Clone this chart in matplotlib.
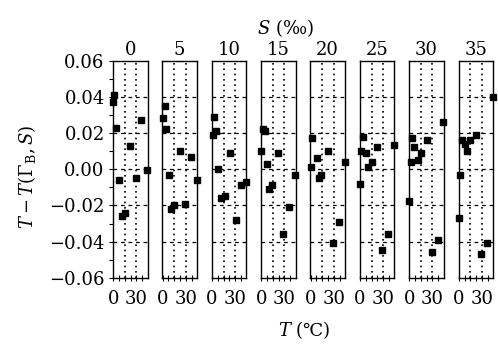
import numpy as np
import matplotlib.pyplot as plt

plt.rcParams['font.family'] = ['DejaVu Serif', 'DejaVu Sans']
plt.rcParams['mathtext.fontset'] = 'dejavuserif'

salinity = [0, 5, 10, 15, 20, 25, 30, 35]

# temperature (C) and deviation for each salinity panel
t_s0 = [1, 0, 4, 36, 22, 44, 7, 29, 15, 11]
d_s0 = [0.041, 0.037, 0.023, 0.027, 0.013, -0.0005, -0.006, -0.005, -0.024, -0.026]
t_s5 = [2.6, 1, 5, 23, 37, 8, 44, 15, 10.5, 29]
d_s5 = [0.035, 0.028, 0.022, 0.010, 0.007, -0.003, -0.006, -0.020, -0.022, -0.019]
t_s10 = [3, 5, 1.7, 23.5, 8, 44, 38, 16.7, 11.5, 31]
d_s10 = [0.029, 0.021, 0.019, 0.009, 0.000, -0.007, -0.009, -0.015, -0.016, -0.028]
t_s15 = [2, 4.6, 0, 21, 7, 43.6, 14, 10.6, 36, 28.6]
d_s15 = [0.022, 0.021, 0.010, 0.009, 0.003, -0.003, -0.009, -0.011, -0.021, -0.036]
t_s20 = [1.3, 22.6, 7.7, 44, 0, 14, 10.6, 36.7, 29]
d_s20 = [0.017, 0.010, 0.006, 0.004, 0.001, -0.003, -0.005, -0.029, -0.041]
t_s25 = [4.3, 1.3, 7.7, 21.4, 15, 10.6, 0, 43.6, 36.3, 29]
d_s25 = [0.018, 0.010, 0.009, 0.0125, 0.004, 0.001, -0.008, 0.0135, -0.036, -0.0445]
t_s30 = [43.6, 3.8, 22.3, 6.4, 14.6, 11.5, 1.8, 0, 36.8, 29]
d_s30 = [0.026, 0.017, 0.016, 0.012, 0.009, 0.005, 0.004, -0.0175, -0.039, -0.046]
t_s35 = [44.9, 22.7, 4.4, 7.7, 15, 10.8, 1.3, 0, 36.8, 29.5]
d_s35 = [0.040, 0.019, 0.016, 0.014, 0.016, 0.010, -0.003, -0.027, -0.041, -0.047]

temps = [t_s0, t_s5, t_s10, t_s15, t_s20, t_s25, t_s30, t_s35]
devs = [d_s0, d_s5, d_s10, d_s15, d_s20, d_s25, d_s30, d_s35]

fig, axes = plt.subplots(1, 8, sharey=True, figsize=(4.98, 3.46), dpi=100)
fig.subplots_adjust(left=0.227, right=0.99, top=0.825, bottom=0.197, wspace=0.43)

for i, ax in enumerate(axes):
    for y in [-0.04, -0.02, 0.0, 0.02, 0.04]:
        ax.axhline(y, color='black', lw=0.9, ls=(0, (3, 3)), zorder=1)
    for x in [15, 30]:
        ax.axvline(x, color='black', lw=1.2, ls=(0, (1, 2.2)), zorder=1)
    ax.plot(temps[i], devs[i], 's', color='black', ms=3.7, clip_on=False, zorder=3)
    ax.set_xlim(-0.3, 44.5)
    ax.set_ylim(-0.06, 0.06)
    ax.set_title(str(salinity[i]), fontsize=13, pad=4)
    ax.set_xticks([0, 30])
    ax.set_xticks(np.arange(0, 45, 7.5), minor=True)
    ax.tick_params(axis='x', which='both', direction='inout', length=4, width=0.8,
                   labelsize=13)
    ax.tick_params(axis='x', which='major', pad=7)
    for sp in ax.spines.values():
        sp.set_linewidth(1.0)
    if i == 0:
        ax.set_yticks(np.arange(-0.06, 0.061, 0.02))
        ax.set_yticks(np.arange(-0.06, 0.061, 0.01), minor=True)
        ax.set_yticklabels(['\u22120.06', '\u22120.04', '\u22120.02', '0.00',
                            '0.02', '0.04', '0.06'])
        ax.tick_params(axis='y', which='both', direction='out', length=3,
                       width=0.8, labelsize=13, pad=3)
    else:
        ax.tick_params(axis='y', which='both', left=False, labelleft=False)

fig.text(0.574, 0.92, r'$S$ (‰)', ha='center', va='center', fontsize=13)
fig.text(0.61, 0.046, r'$T$ (℃)', ha='center', va='center', fontsize=13)
fig.text(0.054, 0.49, r'$T - T(\Gamma_{\rm B}, S)$', ha='center', va='center',
         rotation=90, fontsize=13)

fig.savefig('out.png', dpi=100)
